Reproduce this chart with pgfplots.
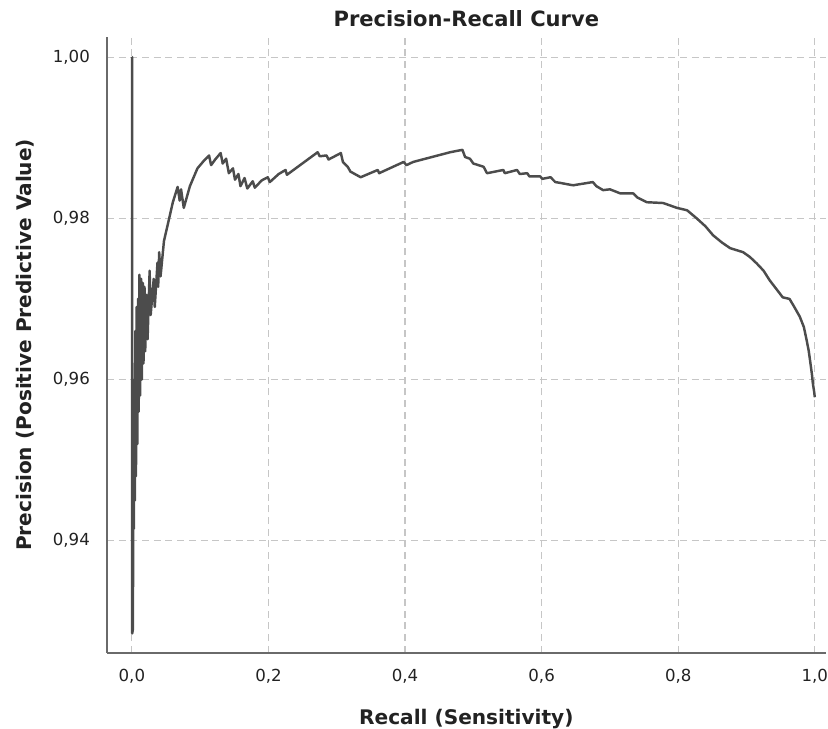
\documentclass[border=0pt]{standalone}
\usepackage{pgfplots}
\pgfplotsset{compat=1.18}
\usepackage{fontspec}
\setmainfont{DejaVu Sans}
\definecolor{curve}{HTML}{4C4C4C}
\definecolor{axisgray}{HTML}{6A6A6A}
\definecolor{txt}{HTML}{222222}

\begin{document}
\begin{tikzpicture}
\begin{axis}[
    scale only axis,
    width=10.8cm, height=9.252cm,
    xmin=-0.0365, xmax=1.016,
    ymin=0.9261, ymax=1.0025,
    axis x line=bottom, axis y line=left,
    axis line style={-, axisgray, line width=0.7pt},
    xtick={0,0.2,0.4,0.6,0.8,1.0},
    ytick={0.94,0.96,0.98,1.00},
    major tick length=0pt,
    grid=major,
    major grid style={densely dashed, gray!45, line width=0.5pt},
    /pgf/number format/.cd, use comma, fixed, fixed zerofill, assume math mode=true,
    /pgfplots/.cd,
    xticklabel style={/pgf/number format/precision=1, font=\fontsize{7.1}{9}\selectfont,
        text=txt, inner sep=0pt, anchor=north, yshift=-0.235cm},
    yticklabel style={/pgf/number format/precision=2, font=\fontsize{7.1}{9}\selectfont,
        text=txt, inner sep=0pt, anchor=east, xshift=-0.25cm},
    xlabel={Recall (Sensitivity)},
    ylabel={Precision (Positive Predictive Value)},
    every axis x label/.style={at={(axis description cs:0.5,0)}, anchor=center,
        yshift=-0.99cm, inner sep=0pt, font=\fontsize{8.6}{10}\selectfont\bfseries, text=txt},
    every axis y label/.style={at={(axis description cs:0,0.5)}, rotate=90, anchor=center,
        yshift=1.23cm, inner sep=0pt, font=\fontsize{8.6}{10}\selectfont\bfseries, text=txt},
    title={Precision-Recall Curve},
    every axis title/.style={at={(axis description cs:0.5,1)}, anchor=center,
        yshift=0.278cm, inner sep=0pt, font=\fontsize{9}{10}\selectfont\bfseries, text=txt},
]
\addplot[curve, line width=1.05pt, line join=round] coordinates {
(0,1.000) (0.0005,1.000) (0.0005,0.9285) (0.0015,0.9290) (0.0020,0.9440)
(0.0030,0.9415) (0.0035,0.9600) (0.0045,0.9450) (0.0050,0.9660) (0.0060,0.9480)
(0.0070,0.9690) (0.0080,0.9520) (0.0090,0.9700) (0.0100,0.9560) (0.0110,0.9730)
(0.0120,0.9580) (0.0135,0.9725) (0.0145,0.9600) (0.0160,0.9720) (0.0170,0.9620)
(0.0185,0.9715) (0.0195,0.9635) (0.0215,0.9705) (0.0230,0.9650) (0.0260,0.9735)
(0.0275,0.9680) (0.0320,0.9725) (0.0335,0.9690) (0.0375,0.9745) (0.0385,0.9715)
(0.0400,0.9758) (0.0420,0.9728) (0.0470,0.9772) (0.0530,0.9794) (0.0600,0.9820)
(0.0670,0.9839) (0.0700,0.9822) (0.0720,0.9836) (0.0760,0.9813) (0.0850,0.9840)
(0.0960,0.9862) (0.1060,0.9872) (0.1130,0.9878) (0.1160,0.9866) (0.1220,0.9873)
(0.1300,0.9881) (0.1330,0.9868) (0.1380,0.9874) (0.1420,0.9856) (0.1480,0.9862)
(0.1510,0.9848) (0.1560,0.9855) (0.1590,0.9840) (0.1650,0.9850) (0.1690,0.9837)
(0.1770,0.9846) (0.1800,0.9838) (0.1900,0.9847) (0.1990,0.9851) (0.2020,0.9845)
(0.2150,0.9855) (0.2250,0.9860) (0.2270,0.9854) (0.2720,0.9882) (0.2750,0.9877)
(0.2850,0.9878) (0.2880,0.9873) (0.3060,0.9881) (0.3090,0.9870) (0.3160,0.9864)
(0.3200,0.9858) (0.3350,0.9851) (0.3600,0.9860) (0.3620,0.9856) (0.3980,0.9870)
(0.4020,0.9866) (0.4120,0.9870) (0.4660,0.9882) (0.4840,0.9885) (0.4880,0.9876)
(0.4950,0.9874) (0.5000,0.9868) (0.5150,0.9864) (0.5200,0.9856) (0.5440,0.9860)
(0.5460,0.9856) (0.5640,0.9860) (0.5680,0.9855) (0.5790,0.9856) (0.5820,0.9852)
(0.5980,0.9852) (0.6010,0.9849) (0.6130,0.9851) (0.6200,0.9845) (0.6270,0.9844)
(0.6460,0.9841) (0.6750,0.9845) (0.6800,0.9840) (0.6900,0.9835) (0.7000,0.9836)
(0.7150,0.9831) (0.7340,0.9831) (0.7400,0.9826) (0.7540,0.9820) (0.7780,0.9819)
(0.7980,0.9813) (0.8130,0.9810) (0.8270,0.9800) (0.8400,0.9790) (0.8510,0.9779)
(0.8640,0.9770) (0.8760,0.9763) (0.8950,0.9758) (0.9050,0.9752) (0.9150,0.9744)
(0.9250,0.9735) (0.9340,0.9723) (0.9440,0.9712) (0.9530,0.9702) (0.9630,0.9700)
(0.9700,0.9690) (0.9780,0.9678) (0.9840,0.9665) (0.9880,0.9649) (0.9910,0.9636)
(0.9930,0.9624) (0.9960,0.9605) (0.9970,0.9596) (0.9990,0.9585) (1.0000,0.9578)
};
\end{axis}
\path (current axis.south west) ++(-1.607cm,-1.141cm) (current axis.north east) ++(0.03cm,0.556cm);
\end{tikzpicture}
\end{document}
